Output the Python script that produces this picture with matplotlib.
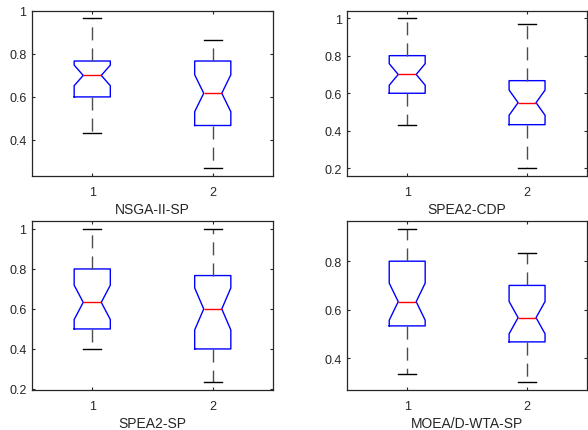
import numpy as np
import matplotlib
matplotlib.use("Agg")
import matplotlib.pyplot as plt
from matplotlib.ticker import FormatStrFormatter

plt.rcParams["font.family"] = ["Liberation Sans", "DejaVu Sans"]

# four algorithms, two groups each, 30 runs per group
names = ["NSGA-II-SP", "SPEA2-CDP", "SPEA2-SP", "MOEA/D-WTA-SP"]
groups = [1, 2]
n_runs = 30

whislo = [[0.433, 0.267], [0.433, 0.200], [0.400, 0.233], [0.333, 0.300]]
q1 = [[0.600, 0.467], [0.600, 0.433], [0.500, 0.400], [0.533, 0.467]]
med = [[0.700, 0.617], [0.700, 0.550], [0.633, 0.600], [0.633, 0.567]]
q3 = [[0.767, 0.767], [0.800, 0.667], [0.800, 0.767], [0.800, 0.700]]
whishi = [[0.967, 0.867], [1.000, 0.967], [1.000, 1.000], [0.933, 0.833]]

yticks = [
    [0.4, 0.6, 0.8, 1.0],
    [0.2, 0.4, 0.6, 0.8, 1.0],
    [0.2, 0.4, 0.6, 0.8, 1.0],
    [0.4, 0.6, 0.8],
]

dark = (0.15, 0.15, 0.15)

fig = plt.figure(figsize=(5.88, 4.31), dpi=100)

# axes rectangles: left, bottom, width, height
rects = [
    [0.0544, 0.5893, 0.4099, 0.3840],
    [0.5906, 0.5893, 0.4077, 0.3840],
    [0.0544, 0.0928, 0.4099, 0.3914],
    [0.5906, 0.0928, 0.4077, 0.3914],
]

for i in range(4):
    ax = fig.add_axes(rects[i])

    stats = []
    for j in range(2):
        half = 1.57 * (q3[i][j] - q1[i][j]) / np.sqrt(n_runs)
        stats.append({
            "med": med[i][j],
            "q1": q1[i][j],
            "q3": q3[i][j],
            "whislo": whislo[i][j],
            "whishi": whishi[i][j],
            "cilo": med[i][j] - half,
            "cihi": med[i][j] + half,
            "fliers": [],
        })

    ax.bxp(
        stats,
        positions=groups,
        widths=0.3,
        shownotches=True,
        showfliers=False,
        boxprops=dict(color="blue", linewidth=1.0),
        medianprops=dict(color="red", linewidth=1.0),
        whiskerprops=dict(color=(0.3, 0.3, 0.3), linewidth=1.0,
                          linestyle=(0, (9.4, 5.8))),
        capprops=dict(color="black", linewidth=1.0),
    )

    lo = min(whislo[i])
    hi = max(whishi[i])
    pad = 0.05 * (hi - lo)
    ax.set_ylim(lo - pad, hi + pad)
    ax.set_xlim(0.5, 2.5)

    ax.set_xticks(groups)
    ax.set_xticklabels([str(g) for g in groups])
    ax.set_yticks(yticks[i])
    ax.yaxis.set_major_formatter(FormatStrFormatter("%g"))

    ax.tick_params(direction="in", length=2.5, width=0.8, colors=dark,
                   labelsize=9, top=True, right=True)
    ax.tick_params(axis="x", pad=7)
    ax.tick_params(axis="y", pad=4)
    for s in ax.spines.values():
        s.set_color(dark)
        s.set_linewidth(0.9)

    ax.set_xlabel(names[i], fontsize=10, color=dark, labelpad=3)

fig.savefig("out.png", dpi=100)
